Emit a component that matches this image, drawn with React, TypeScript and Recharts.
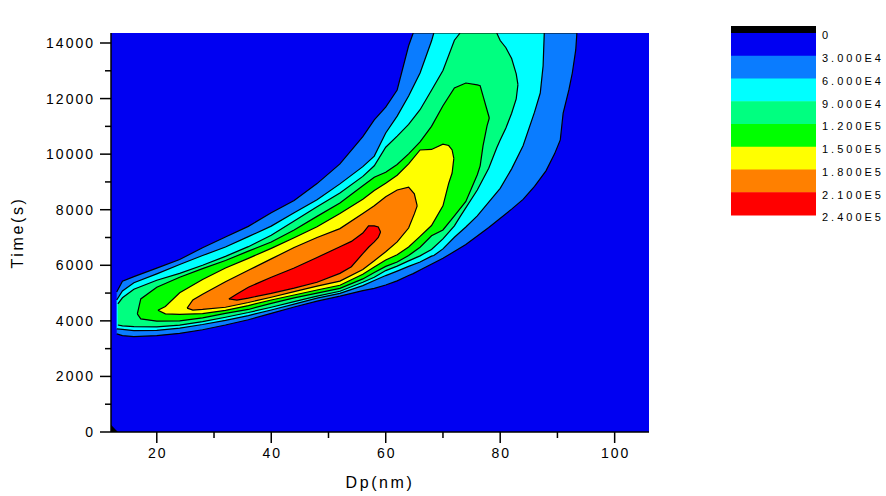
import {
  ComposedChart,
  Area,
  XAxis,
  YAxis,
  CartesianGrid,
  Legend,
  Label,
} from "recharts";

// ─── Data ──────────────────────────────────────────────────────────
// Each band is a filled contour level, stored as vertical slices:
// for every Dp (nm) the Time (s) range [low, high] inside that level.

const dpTicks = [20, 30, 40, 50, 60, 70, 80, 90, 100];
const timeTicks = [0, 1000, 2000, 3000, 4000, 5000, 6000, 7000, 8000, 9000, 10000, 11000, 12000, 13000, 14000];

const legendLabels = ["0", "3.000E4", "6.000E4", "9.000E4", "1.200E5", "1.500E5", "1.800E5", "2.100E5", "2.400E5"];
const legendColors = ["#000000", "#0000f2", "#0a7cff", "#00ffff", "#00ff80", "#00ff00", "#ffff00", "#ff8000", "#ff0000"];

// below zero (tiny corner)
const cornerDp = [12, 13.2];
const cornerLow = [0, 0];
const cornerHigh = [260, 0];

// >= 3.0E4
const band1Dp = [13, 14, 16, 20, 24, 28, 32, 36, 40, 44, 48, 52, 56, 58, 60, 62, 64, 64.8, 66, 70, 74, 78, 82, 84, 86, 88, 89.5, 90.5, 91, 92, 92.6, 93.2, 93.4];
const band1Low = [3530, 3470, 3430, 3470, 3550, 3680, 3850, 4040, 4270, 4500, 4710, 4890, 5090, 5170, 5290, 5440, 5630, 5700, 5830, 6250, 6750, 7360, 8020, 8370, 8840, 9400, 10010, 10510, 11480, 12310, 12920, 13750, 14360];
const band1High = [5040, 5430, 5590, 5900, 6210, 6630, 7020, 7400, 7890, 8330, 8940, 9650, 10630, 11230, 11690, 12310, 13900, 14360, 14360, 14360, 14360, 14360, 14360, 14360, 14360, 14360, 14360, 14360, 14360, 14360, 14360, 14360, 14360];

// >= 6.0E4
const band2Dp = [13, 14, 16, 20, 24, 28, 32, 36, 40, 44, 48, 52, 56, 58, 60, 62, 64, 66, 68, 68.4, 70, 72, 74, 76, 78, 80, 82, 84, 86, 87, 87.5, 87.7];
const band2Low = [3710, 3690, 3650, 3660, 3740, 3870, 4020, 4190, 4390, 4600, 4820, 4990, 5270, 5450, 5630, 5790, 5960, 6120, 6330, 6350, 6590, 7010, 7380, 7780, 8270, 8770, 9470, 10300, 11510, 12200, 13180, 14360];
const band2High = [4750, 5075, 5370, 5690, 6030, 6350, 6660, 7030, 7410, 7890, 8360, 8930, 9550, 9930, 10760, 11370, 12090, 12920, 14070, 14360, 14360, 14360, 14360, 14360, 14360, 14360, 14360, 14360, 14360, 14360, 14360, 14360];

// >= 9.0E4
const band3Dp = [13.2, 14, 16, 20, 24, 28, 32, 36, 40, 44, 48, 52, 56, 58, 60, 62, 64, 66, 68, 70, 72, 73, 76, 78, 79.4, 80, 81, 82, 82.8, 83.1];
const band3Low = [3850, 3820, 3790, 3780, 3845, 3970, 4130, 4300, 4490, 4690, 4890, 5065, 5390, 5570, 5810, 5970, 6160, 6340, 6570, 6950, 7420, 7750, 8710, 9490, 10230, 10510, 10940, 11470, 11990, 12500];
const band3High = [4610, 4830, 5140, 5460, 5710, 6000, 6320, 6670, 7080, 7590, 8110, 8600, 9200, 9580, 10250, 10650, 11070, 11600, 12300, 13010, 14100, 14360, 14360, 14360, 14360, 14090, 13830, 13440, 12890, 12500];

// >= 1.2E5
const band4Dp = [16.6, 17.2, 20, 24, 28, 32, 36, 40, 44, 48, 52, 56, 58, 60, 62, 64, 66, 68, 70, 72, 74, 76, 76.5, 77, 77.7, 78.1];
const band4Low = [4250, 4070, 3990, 4000, 4110, 4270, 4410, 4630, 4830, 5000, 5170, 5510, 5740, 5960, 6120, 6350, 6650, 7060, 7270, 7780, 8300, 9260, 9580, 10300, 11020, 11300];
const band4High = [4250, 4790, 5210, 5570, 5880, 6170, 6510, 6840, 7270, 7760, 8240, 8860, 9170, 9350, 9630, 10010, 10440, 11000, 11740, 12380, 12560, 12490, 12460, 12100, 11590, 11300];

// >= 1.5E5
const band5Dp = [20.2, 21.5, 24, 28, 32, 36, 40, 44, 48, 52, 56, 58, 60, 62, 64, 66, 68, 70, 71, 71.6, 71.9];
const band5Low = [4380, 4250, 4230, 4260, 4380, 4550, 4750, 4930, 5110, 5280, 5680, 5940, 6190, 6380, 6660, 7040, 7430, 8140, 8950, 9320, 9850];
const band5High = [4380, 4520, 5010, 5490, 5900, 6250, 6610, 6990, 7390, 7860, 8380, 8690, 8950, 9240, 9650, 10150, 10170, 10360, 10310, 10150, 9850];

// >= 1.8E5
const band6Dp = [25.3, 26.3, 28, 32, 36, 40, 44, 48, 52, 56, 58, 60, 62, 64, 65, 65.5];
const band6Low = [4460, 4390, 4410, 4490, 4660, 4850, 5050, 5250, 5430, 5850, 6160, 6490, 6840, 7340, 7850, 8140];
const band6High = [4460, 4750, 4960, 5410, 5820, 6230, 6640, 7000, 7320, 7860, 8140, 8470, 8710, 8810, 8570, 8140];

// >= 2.1E5
const band7Dp = [32.6, 34, 36, 40, 44, 48, 52, 54, 56, 57, 58, 58.7, 59.1];
const band7Low = [4790, 4750, 4820, 4990, 5180, 5390, 5710, 5950, 6420, 6650, 6840, 7000, 7200];
const band7High = [4790, 4970, 5210, 5570, 5900, 6280, 6670, 6860, 7160, 7420, 7420, 7380, 7200];

// ─── Helpers ───────────────────────────────────────────────────────

const FONT = "'Liberation Sans', Arial, sans-serif";
const TICK_SIZE = 11;
const X_TICK_MARGIN = 5;
const Y_TICK_MARGIN = 7;

function toRows(dp: number[], low: number[], high: number[]) {
  return dp.map((d, i) => ({ dp: d, t: [low[i], high[i]] }));
}

const bands = [
  { key: "corner", data: toRows(cornerDp, cornerLow, cornerHigh), color: legendColors[0] },
  { key: "b1", data: toRows(band1Dp, band1Low, band1High), color: legendColors[2] },
  { key: "b2", data: toRows(band2Dp, band2Low, band2High), color: legendColors[3] },
  { key: "b3", data: toRows(band3Dp, band3Low, band3High), color: legendColors[4] },
  { key: "b4", data: toRows(band4Dp, band4Low, band4High), color: legendColors[5] },
  { key: "b5", data: toRows(band5Dp, band5Low, band5High), color: legendColors[6] },
  { key: "b6", data: toRows(band6Dp, band6Low, band6High), color: legendColors[7] },
  { key: "b7", data: toRows(band7Dp, band7Low, band7High), color: legendColors[8] },
];

// ─── Custom ticks (major with label, minor without) ────────────────

function DpTick(props: any) {
  const { x, y, payload } = props;
  const axisY = y - TICK_SIZE - X_TICK_MARGIN;
  const major = payload.value % 20 === 0;
  return (
    <g>
      <line x1={x} x2={x} y1={axisY} y2={axisY + (major ? TICK_SIZE : 6)} stroke="#000" strokeWidth={1.5} />
      {major && (
        <text x={x + 1} y={y} dy="0.72em" textAnchor="middle" fontFamily={FONT} fontSize={14} fill="#000" style={{ letterSpacing: "2px" }}>
          {payload.value}
        </text>
      )}
    </g>
  );
}

function TimeTick(props: any) {
  const { x, y, payload } = props;
  const axisX = x + TICK_SIZE + Y_TICK_MARGIN;
  const major = payload.value % 2000 === 0;
  return (
    <g>
      <line x1={axisX - (major ? TICK_SIZE : 6)} x2={axisX} y1={y} y2={y} stroke="#000" strokeWidth={1.5} />
      {major && (
        <text x={x + 2} y={y} dy="0.36em" textAnchor="end" fontFamily={FONT} fontSize={14} fill="#000" style={{ letterSpacing: "2px" }}>
          {payload.value}
        </text>
      )}
    </g>
  );
}

// ─── Colour scale legend ───────────────────────────────────────────

const LEGEND_LEFT = 720;
const LEGEND_TOP = 20;

function ColorScale() {
  const rowH = 22.75;
  const first = 13; // bottom of the black strip, relative to legend top
  return (
    <svg width={166} height={210} style={{ display: "block" }}>
      {legendColors.map((c, i) =>
        i === 0 ? (
          <rect key={c} x={11} y={6} width={85} height={first - 6} fill={c} />
        ) : (
          <rect key={c} x={11} y={first + (i - 1) * rowH} width={85} height={rowH + 0.5} fill={c} />
        )
      )}
      {legendLabels.map((lab, i) => (
        <text
          key={lab}
          x={102}
          y={first + i * rowH + 2.5}
          dy="0.36em"
          fontFamily={FONT}
          fontSize={11}
          fill="#000"
          style={{ letterSpacing: "3px" }}
        >
          {lab}
        </text>
      ))}
    </svg>
  );
}

// ─── Component ─────────────────────────────────────────────────────

export default function App() {
  return (
    <div style={{ position: "absolute", left: 0, top: 0, background: "#fff" }}>
      <ComposedChart width={886} height={496} margin={{ top: 33, right: 237, bottom: 0, left: 0 }}>
        <CartesianGrid horizontal={false} vertical={false} fill={legendColors[1]} fillOpacity={1} />

        <XAxis
          type="number"
          dataKey="dp"
          domain={[12, 106]}
          ticks={dpTicks}
          interval={0}
          allowDataOverflow
          height={64}
          tickSize={TICK_SIZE}
          tickMargin={X_TICK_MARGIN}
          tickLine={false}
          axisLine={{ stroke: "#000", strokeWidth: 1.5 }}
          tick={(p: any) => <DpTick {...p} />}
        >
          <Label
            value="Dp(nm)"
            position="insideBottom"
            offset={8}
            fill="#000"
            fontSize={16}
            fontFamily={FONT}
            style={{ letterSpacing: "2.6px" }}
          />
        </XAxis>
        <XAxis
          xAxisId="top"
          orientation="top"
          type="number"
          domain={[12, 106]}
          allowDataOverflow
          height={0}
          tick={false}
          tickLine={false}
          axisLine={{ stroke: "#000", strokeWidth: 1.5 }}
        />

        <YAxis
          type="number"
          domain={[0, 14360]}
          ticks={timeTicks}
          interval={0}
          allowDataOverflow
          width={111}
          tickSize={TICK_SIZE}
          tickMargin={Y_TICK_MARGIN}
          tickLine={false}
          axisLine={{ stroke: "#000", strokeWidth: 1.5 }}
          tick={(p: any) => <TimeTick {...p} />}
        >
          <Label
            value="Time(s)"
            angle={-90}
            position="insideLeft"
            offset={17}
            fill="#000"
            fontSize={16}
            fontFamily={FONT}
            style={{ textAnchor: "middle", letterSpacing: "2.6px" }}
          />
        </YAxis>
        <YAxis
          yAxisId="right"
          orientation="right"
          type="number"
          domain={[0, 14360]}
          allowDataOverflow
          width={0}
          tick={false}
          tickLine={false}
          axisLine={{ stroke: "#000", strokeWidth: 1.5 }}
        />

        {/* filled contour levels, outermost first */}
        {bands.map((b) => (
          <Area
            key={b.key}
            data={b.data}
            dataKey="t"
            type="linear"
            fill={b.color}
            fillOpacity={1}
            stroke={b.key === "corner" ? "none" : "#000"}
            strokeWidth={1.2}
            dot={false}
            activeDot={false}
            isAnimationActive={false}
          />
        ))}

        <Legend
          layout="vertical"
          align="center"
          verticalAlign="middle"
          wrapperStyle={{ left: LEGEND_LEFT, top: LEGEND_TOP, width: 166, height: 210 }}
          content={() => <ColorScale />}
        />
      </ComposedChart>
    </div>
  );
}
